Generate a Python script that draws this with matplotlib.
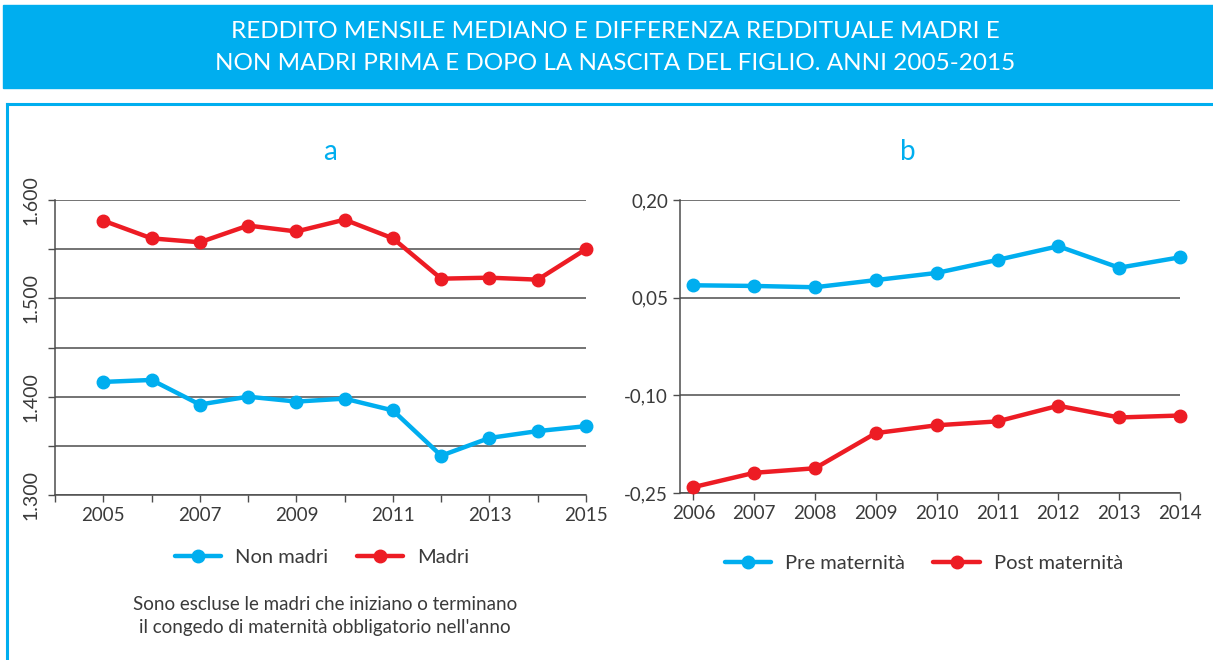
import matplotlib
matplotlib.use("Agg")
import matplotlib.pyplot as plt
from matplotlib.patches import Rectangle
from matplotlib.lines import Line2D
from matplotlib.ticker import FixedLocator, FuncFormatter

plt.rcParams['font.family'] = ['Lato', 'DejaVu Sans']

# ---- data ----
years_a = [2005, 2006, 2007, 2008, 2009, 2010, 2011, 2012, 2013, 2014, 2015]
non_madri = [1415, 1417, 1392, 1400, 1395, 1398, 1386, 1340, 1358, 1365, 1370]
madri = [1579, 1561, 1557, 1574, 1568, 1580, 1561, 1520, 1521, 1519, 1550]

years_b = [2006, 2007, 2008, 2009, 2010, 2011, 2012, 2013, 2014]
pre_maternita = [0.069, 0.068, 0.066, 0.077, 0.088, 0.108, 0.129, 0.096, 0.112]
post_maternita = [-0.241, -0.219, -0.212, -0.158, -0.146, -0.140, -0.116, -0.134, -0.131]

title_lines = ["REDDITO MENSILE MEDIANO E DIFFERENZA REDDITUALE MADRI E",
               "NON MADRI PRIMA E DOPO LA NASCITA DEL FIGLIO. ANNI 2005-2015"]
note_lines = ["Sono escluse le madri che iniziano o terminano",
              "il congedo di maternità obbligatorio nell'anno"]

BLUE = "#00AEEF"
RED = "#ED1C24"
GRID = "#4d4d4d"
TXT = "#3a3a3a"

W, H = 1213, 660
fig = plt.figure(figsize=(W / 100, H / 100), dpi=100)


def fx(px):
    return px / W


def fy(py):
    return 1 - py / H


# banner
fig.patches.append(Rectangle((fx(3), fy(88)), fx(1213) - fx(3), fy(5) - fy(88),
                             transform=fig.transFigure, color=BLUE, zorder=0))
fig.text(fx(615), fy(32), title_lines[0], color="white", fontsize=17.5,
         ha="center", va="center")
fig.text(fx(615), fy(63), title_lines[1], color="white", fontsize=17.5,
         ha="center", va="center")

# frame
fig.add_artist(Line2D([fx(7), fx(7)], [fy(104), 0], transform=fig.transFigure,
                      color=BLUE, lw=2.2))
fig.add_artist(Line2D([fx(7), 1], [fy(104), fy(104)], transform=fig.transFigure,
                      color=BLUE, lw=2.2))

# ---- chart a ----
axA = fig.add_axes([fx(55), fy(495), fx(586) - fx(55), fy(200) - fy(495)])
axA.plot(years_a, non_madri, color=BLUE, lw=3.2, marker="o", ms=9,
         label="Non madri", solid_capstyle="round", zorder=3, clip_on=False)
axA.plot(years_a, madri, color=RED, lw=3.2, marker="o", ms=9,
         label="Madri", solid_capstyle="round", zorder=3, clip_on=False)
axA.set_xlim(2004, 2015)
axA.set_ylim(1300, 1600)
axA.xaxis.set_major_locator(FixedLocator(list(range(2004, 2016))))
axA.xaxis.set_major_formatter(FuncFormatter(lambda v, p: str(int(v)) if int(v) % 2 == 1 else ""))
ygrid_a = list(range(1300, 1601, 50))
axA.yaxis.set_major_locator(FixedLocator(ygrid_a))
axA.yaxis.set_major_formatter(FuncFormatter(
    lambda v, p: ("%d.%03d" % (int(v) // 1000, int(v) % 1000)) if int(v) % 100 == 0 else ""))
for lab in axA.get_yticklabels():
    lab.set_rotation(90)
    lab.set_va("center")
axA.grid(axis="y", color=GRID, lw=1.1)
axA.set_axisbelow(True)
for s in ["top", "right"]:
    axA.spines[s].set_visible(False)
for s in ["left", "bottom"]:
    axA.spines[s].set_color(GRID)
    axA.spines[s].set_linewidth(1.1)
axA.tick_params(axis="both", colors=GRID, labelcolor=TXT, labelsize=13.5,
                length=5, width=1)
axA.tick_params(axis="y", pad=6, labelsize=14)
fig.text(fx(330), fy(152), "a", color=BLUE, fontsize=20, ha="center", va="center")
axA.legend(loc="center", bbox_to_anchor=(fx(322), fy(557)), bbox_transform=fig.transFigure,
           ncol=2, frameon=False, fontsize=14.5, handlelength=2.3, columnspacing=1.4,
           handletextpad=0.7, labelcolor=TXT)
fig.text(fx(325), fy(605), note_lines[0], color=TXT, fontsize=13.5, ha="center", va="center")
fig.text(fx(325), fy(628), note_lines[1], color=TXT, fontsize=13.5, ha="center", va="center")

# ---- chart b ----
axB = fig.add_axes([fx(680), fy(493), fx(1180) - fx(680), fy(200) - fy(493)])
axB.plot(years_b, pre_maternita, color=BLUE, lw=3.2, marker="o", ms=9,
         label="Pre maternità", solid_capstyle="round", zorder=3, clip_on=False)
axB.plot(years_b, post_maternita, color=RED, lw=3.2, marker="o", ms=9,
         label="Post maternità", solid_capstyle="round", zorder=3, clip_on=False)
axB.set_xlim(2005.78, 2014)
axB.set_ylim(-0.25, 0.20)
axB.xaxis.set_major_locator(FixedLocator(years_b))
axB.xaxis.set_major_formatter(FuncFormatter(lambda v, p: str(int(round(v)))))
yt_b = [-0.25, -0.10, 0.05, 0.20]
axB.yaxis.set_major_locator(FixedLocator(yt_b))
axB.yaxis.set_major_formatter(FuncFormatter(lambda v, p: ("%.2f" % v).replace(".", ",")))
axB.grid(axis="y", color=GRID, lw=1.1)
axB.set_axisbelow(True)
for s in ["top", "right"]:
    axB.spines[s].set_visible(False)
for s in ["left", "bottom"]:
    axB.spines[s].set_color(GRID)
    axB.spines[s].set_linewidth(1.1)
axB.tick_params(axis="both", colors=GRID, labelcolor=TXT, labelsize=13.5,
                length=5, width=1)
fig.text(fx(908), fy(152), "b", color=BLUE, fontsize=20, ha="center", va="center")
axB.legend(loc="center", bbox_to_anchor=(fx(924), fy(563)), bbox_transform=fig.transFigure,
           ncol=2, frameon=False, fontsize=14.5, handlelength=2.3, columnspacing=1.4,
           handletextpad=0.7, labelcolor=TXT)

fig.savefig("out.png", dpi=100)
